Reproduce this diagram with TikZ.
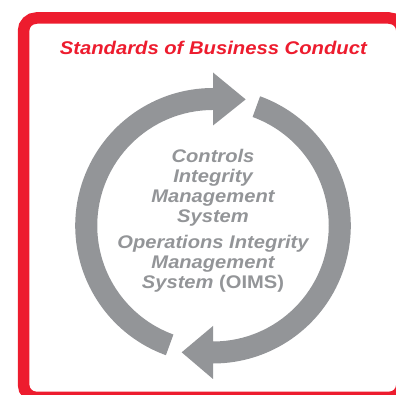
\documentclass[tikz,border=0pt]{standalone}
\usepackage{fontspec}
\setmainfont{Liberation Sans}[FakeStretch=1.1]
\usetikzlibrary{positioning}
\definecolor{sbcred}{HTML}{ED1C2E}
\definecolor{ringgray}{HTML}{939598}

\begin{document}
\begin{tikzpicture}[x=1pt,y=1pt,
  title text/.style={font=\fontsize{18.4}{20}\selectfont\bfseries\itshape, text=sbcred, inner sep=0pt},
  body text/.style={font=\fontsize{18.3}{20}\selectfont\bfseries\itshape, text=ringgray, align=center, inner sep=0pt},
  ring arrow/.style={fill=ringgray, draw=none}]

\useasboundingbox (0,0) rectangle (396,395);
\clip (0,0) rectangle (396,395);

% red frame, cut off on the right and at the bottom
\draw[sbcred, line width=11.5pt, rounded corners=13pt] (23.5,-2.5) rectangle (402,377);

\node[title text, anchor=base] (title) at (213.3,340) {Standards of Business Conduct};

\coordinate (c) at (213,169.25);

% left arrow: bottom-left up to the top
\fill[ring arrow, shift={(c)}] (250:137.75) arc[start angle=250, end angle=90, radius=137.75]
	-- (90:153.25) -- (75.5:130.5) -- (90:100.25) -- (90:115.75)
	arc[start angle=90, end angle=250, radius=115.75] -- cycle;

% right arrow: top-right down to the bottom
\fill[ring arrow, shift={(c)}] (70:137.75) arc[start angle=70, end angle=-90, radius=137.75]
	-- (-90:153.25) -- (-103.9:130.4) -- (-90:100.25) -- (-90:115.75)
	arc[start angle=-90, end angle=70, radius=115.75] -- cycle;

% base of a multi-line node = baseline of its last line
\node[body text, anchor=base] (cims) at (213,172) {Controls\\Integrity\\Management\\System};
\node[body text, anchor=base] (oims) at (213,106) {Operations Integrity\\Management\\System {\upshape(OIMS)}};
\end{tikzpicture}
\end{document}
